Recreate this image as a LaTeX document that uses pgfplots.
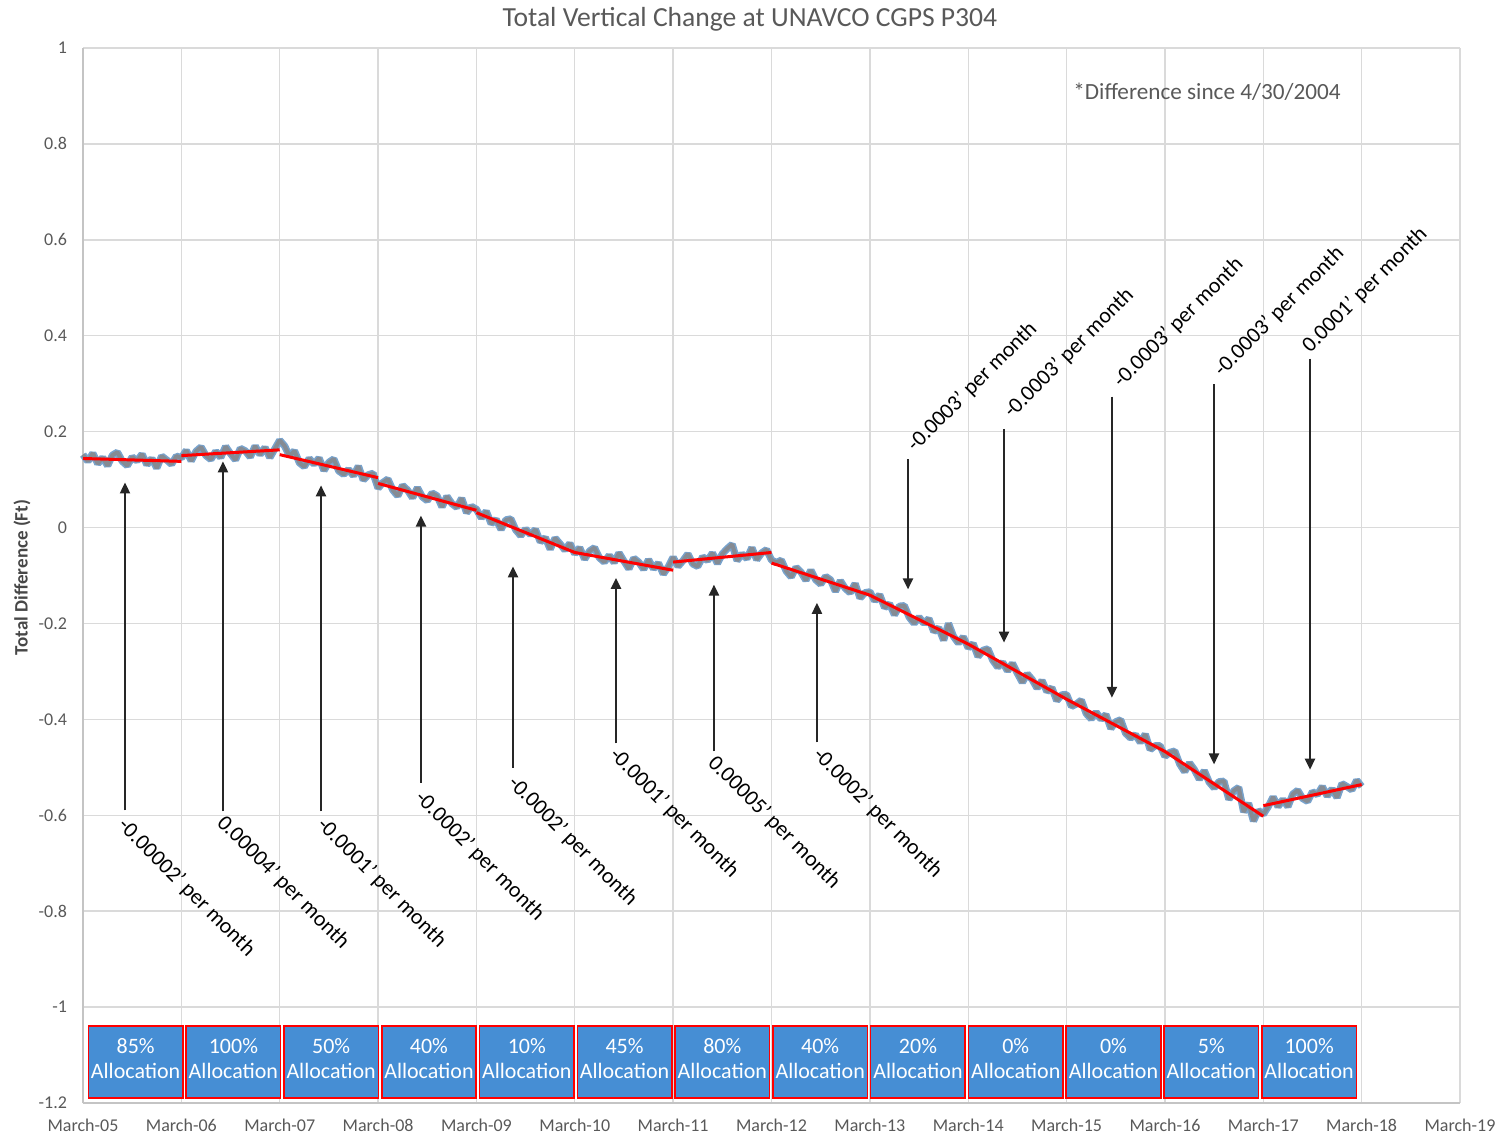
\documentclass[border=0pt]{standalone}
\usepackage{fontspec}
\setmainfont{Carlito}
\usepackage{pgfplots}
\pgfplotsset{compat=1.18}
\usepackage{pgfplotstable}
\usetikzlibrary{arrows.meta}

\definecolor{gridc}{HTML}{DADADA}
\definecolor{axc}{HTML}{C4C4C4}
\definecolor{tickc}{HTML}{595959}
\definecolor{boxblue}{HTML}{468ED4}
\definecolor{bandblue}{HTML}{79A3CC}
\definecolor{bandgrey}{HTML}{858B93}
\definecolor{arrowc}{HTML}{262626}

\pgfplotstableread{
x y
0.00 0.152
0.05 0.138
0.10 0.155
0.15 0.133
0.20 0.146
0.25 0.129
0.30 0.151
0.35 0.157
0.40 0.138
0.45 0.129
0.50 0.147
0.55 0.139
0.60 0.153
0.65 0.131
0.70 0.144
0.75 0.124
0.80 0.149
0.85 0.141
0.90 0.132
0.95 0.149
1.00 0.145
1.05 0.161
1.10 0.139
1.15 0.159
1.20 0.168
1.25 0.150
1.30 0.142
1.35 0.159
1.40 0.146
1.45 0.169
1.50 0.154
1.55 0.141
1.60 0.165
1.65 0.160
1.70 0.147
1.75 0.170
1.80 0.152
1.85 0.167
1.90 0.146
1.95 0.164
2.00 0.182
2.05 0.170
2.10 0.149
2.15 0.160
2.20 0.135
2.25 0.127
2.30 0.144
2.35 0.132
2.40 0.145
2.45 0.119
2.50 0.136
2.55 0.143
2.60 0.118
2.65 0.111
2.70 0.121
2.75 0.108
2.80 0.128
2.85 0.099
2.90 0.110
2.95 0.113
3.00 0.082
3.05 0.094
3.10 0.101
3.15 0.078
3.20 0.066
3.25 0.088
3.30 0.078
3.35 0.062
3.40 0.083
3.45 0.064
3.50 0.056
3.55 0.072
3.60 0.066
3.65 0.043
3.70 0.065
3.75 0.050
3.80 0.042
3.85 0.061
3.90 0.031
3.95 0.044
4.00 0.038
4.05 0.020
4.10 0.034
4.15 0.008
4.20 0.017
4.25 -0.004
4.30 0.016
4.35 0.018
4.40 -0.005
4.45 -0.017
4.50 -0.003
4.55 -0.015
4.60 -0.004
4.65 -0.030
4.70 -0.021
4.75 -0.045
4.80 -0.022
4.85 -0.034
4.90 -0.047
4.95 -0.033
5.00 -0.055
5.05 -0.042
5.10 -0.066
5.15 -0.049
5.20 -0.042
5.25 -0.063
5.30 -0.072
5.35 -0.058
5.40 -0.073
5.45 -0.053
5.50 -0.070
5.55 -0.086
5.60 -0.064
5.65 -0.072
5.70 -0.087
5.75 -0.067
5.80 -0.086
5.85 -0.074
5.90 -0.097
5.95 -0.082
6.00 -0.062
6.05 -0.081
6.10 -0.069
6.15 -0.055
6.20 -0.076
6.25 -0.081
6.30 -0.061
6.35 -0.069
6.40 -0.053
6.45 -0.075
6.50 -0.055
6.55 -0.044
6.60 -0.035
6.65 -0.069
6.70 -0.055
6.75 -0.065
6.80 -0.042
6.85 -0.067
6.90 -0.053
6.95 -0.046
7.00 -0.068
7.05 -0.073
7.10 -0.068
7.15 -0.091
7.20 -0.103
7.25 -0.083
7.30 -0.093
7.35 -0.110
7.40 -0.089
7.45 -0.109
7.50 -0.118
7.55 -0.102
7.60 -0.109
7.65 -0.133
7.70 -0.111
7.75 -0.127
7.80 -0.136
7.85 -0.117
7.90 -0.147
7.95 -0.136
8.00 -0.134
8.05 -0.153
8.10 -0.140
8.15 -0.167
8.20 -0.159
8.25 -0.182
8.30 -0.164
8.35 -0.163
8.40 -0.187
8.45 -0.200
8.50 -0.187
8.55 -0.200
8.60 -0.190
8.65 -0.217
8.70 -0.209
8.75 -0.235
8.80 -0.200
8.85 -0.227
8.90 -0.241
8.95 -0.228
9.00 -0.251
9.05 -0.242
9.10 -0.269
9.15 -0.256
9.20 -0.253
9.25 -0.277
9.30 -0.291
9.35 -0.281
9.40 -0.299
9.45 -0.283
9.50 -0.304
9.55 -0.323
9.60 -0.305
9.65 -0.317
9.70 -0.335
9.75 -0.319
9.80 -0.342
9.85 -0.334
9.90 -0.361
9.95 -0.349
10.00 -0.348
10.05 -0.373
10.10 -0.368
10.15 -0.360
10.20 -0.388
10.25 -0.399
10.30 -0.385
10.35 -0.400
10.40 -0.390
10.45 -0.419
10.50 -0.405
10.55 -0.401
10.60 -0.429
10.65 -0.439
10.70 -0.432
10.75 -0.448
10.80 -0.431
10.85 -0.463
10.90 -0.455
10.95 -0.455
11.00 -0.477
11.05 -0.469
11.10 -0.466
11.15 -0.493
11.20 -0.509
11.25 -0.491
11.30 -0.505
11.35 -0.525
11.40 -0.507
11.45 -0.531
11.50 -0.543
11.55 -0.530
11.60 -0.529
11.65 -0.567
11.70 -0.549
11.75 -0.542
11.80 -0.593
11.85 -0.575
11.90 -0.612
11.95 -0.590
12.00 -0.598
12.05 -0.582
12.10 -0.562
12.15 -0.582
12.20 -0.567
12.25 -0.582
12.30 -0.556
12.35 -0.548
12.40 -0.565
12.45 -0.571
12.50 -0.551
12.55 -0.557
12.60 -0.540
12.65 -0.560
12.70 -0.545
12.75 -0.563
12.80 -0.534
12.85 -0.540
12.90 -0.547
12.95 -0.527
13.00 -0.540
}\gpsdata

\pgfplotstableread{
x y
0 0.144
1 0.138
1 nan
1 0.150
2 0.162
2 nan
2 0.152
3 0.104
3 nan
3 0.092
4 0.036
4 nan
4 0.031
5 -0.052
6 -0.089
6 nan
6 -0.072
7 -0.052
7 nan
7 -0.074
8 -0.141
9 -0.243
10 -0.358
11 -0.467
12 -0.602
12 nan
12 -0.580
13 -0.536
}\trenddata

\tikzset{
  arr/.style={draw=arrowc, line width=1.1pt, -{Triangle[length=5.5pt,width=5pt]}},
  lowlab/.style={rotate=-45, anchor=west, inner sep=0pt, font=\fontsize{11}{12}\selectfont, text=black},
  uplab/.style={rotate=45, anchor=west, inner sep=0pt, font=\fontsize{11}{12}\selectfont, text=black},
  abox/.style={fill=boxblue, draw=red, line width=0.8pt},
  alab/.style={text=white, align=center, font=\fontsize{11}{12.5}\selectfont, inner sep=0pt},
}

\begin{document}
\begin{tikzpicture}
\begin{axis}[
  scale only axis, width=688.5pt, height=527.5pt,
  xmin=0, xmax=14, ymin=-1.2, ymax=1,
  xtick={0,1,2,3,4,5,6,7,8,9,10,11,12,13,14},
  xticklabels={March-05,March-06,March-07,March-08,March-09,March-10,March-11,March-12,March-13,March-14,March-15,March-16,March-17,March-18,March-19},
  ytick={-1.2,-1,-0.8,-0.6,-0.4,-0.2,0,0.2,0.4,0.6,0.8,1},
  yticklabels={-1.2,-1,-0.8,-0.6,-0.4,-0.2,0,0.2,0.4,0.6,0.8,1},
  grid=major, major grid style={draw=gridc, line width=0.7pt},
  axis x line*=bottom, axis y line*=left,
  axis line style={-, draw=axc, line width=0.7pt},
  major tick length=0pt,
  tick label style={font=\fontsize{9}{10}\selectfont, text=tickc},
  xticklabel style={yshift=-4.5pt},
  yticklabel style={xshift=-4.5pt},
  clip=false,
  unbounded coords=jump,
]
\addplot[draw=bandblue, line width=3.6pt, line join=bevel] table[x=x,y=y] {\gpsdata};
\addplot[draw=bandgrey, line width=2.0pt, line join=bevel] table[x=x,y=y] {\gpsdata};
\addplot[draw=red, line width=1.5pt] table[x=x,y=y] {\trenddata};

\coordinate (SW) at (rel axis cs:0,0);
\coordinate (NE) at (rel axis cs:1,1);

% title, y label, note
\node[font=\fontsize{13.8}{15}\selectfont, text=tickc] at (axis cs:6.78,1.059) {Total Vertical Change at UNAVCO CGPS P304};
\node[rotate=90, font=\bfseries\fontsize{9.5}{11}\selectfont, text=tickc!80!black] at (axis cs:-0.62,-0.104) {Total Difference (Ft)};
\node[anchor=west, inner sep=0pt, font=\fontsize{11.6}{13}\selectfont, text=tickc] at (axis cs:10.065,0.909) {*Difference since 4/30/2004};

% arrows
\draw[arr] (axis cs:0.427,-0.590) -- (axis cs:0.427,0.094);
\draw[arr] (axis cs:1.423,-0.592) -- (axis cs:1.423,0.138);
\draw[arr] (axis cs:2.420,-0.592) -- (axis cs:2.420,0.088);
\draw[arr] (axis cs:3.436,-0.532) -- (axis cs:3.436,0.025);
\draw[arr] (axis cs:4.372,-0.501) -- (axis cs:4.372,-0.081);
\draw[arr] (axis cs:5.419,-0.450) -- (axis cs:5.419,-0.105);
\draw[arr] (axis cs:6.415,-0.467) -- (axis cs:6.415,-0.119);
\draw[arr] (axis cs:7.462,-0.448) -- (axis cs:7.462,-0.157);
\draw[arr] (axis cs:8.388,0.142) -- (axis cs:8.388,-0.129);
\draw[arr] (axis cs:9.364,0.206) -- (axis cs:9.364,-0.240);
\draw[arr] (axis cs:10.461,0.273) -- (axis cs:10.461,-0.355);
\draw[arr] (axis cs:11.499,0.299) -- (axis cs:11.499,-0.494);
\draw[arr] (axis cs:12.475,0.352) -- (axis cs:12.475,-0.505);

% rate labels
\node[lowlab] at (axis cs:0.386,-0.615) {-0.00002' per month};
\node[lowlab] at (axis cs:1.393,-0.609) {0.00004' per month};
\node[lowlab] at (axis cs:2.410,-0.613) {-0.0001' per month};
\node[lowlab] at (axis cs:3.406,-0.557) {-0.0002' per month};
\node[lowlab] at (axis cs:4.351,-0.526) {-0.0002' per month};
\node[lowlab] at (axis cs:5.383,-0.467) {-0.0001' per month};
\node[lowlab] at (axis cs:6.385,-0.484) {0.00005' per month};
\node[lowlab] at (axis cs:7.452,-0.467) {-0.0002' per month};
\node[uplab] at (axis cs:8.418,0.165) {-0.0003' per month};
\node[uplab] at (axis cs:9.401,0.235) {-0.0003' per month};
\node[uplab] at (axis cs:10.513,0.299) {-0.0003' per month};
\node[uplab] at (axis cs:11.537,0.322) {-0.0003' per month};
\node[uplab] at (axis cs:12.433,0.372) {0.0001' per month};

% allocation boxes
\draw[abox] (axis cs:0.054,-1.040) rectangle (axis cs:1.015,-1.189);
\draw[abox] (axis cs:1.048,-1.040) rectangle (axis cs:2.009,-1.189);
\draw[abox] (axis cs:2.043,-1.040) rectangle (axis cs:3.003,-1.189);
\draw[abox] (axis cs:3.037,-1.040) rectangle (axis cs:3.998,-1.189);
\draw[abox] (axis cs:4.031,-1.040) rectangle (axis cs:4.992,-1.189);
\draw[abox] (axis cs:5.026,-1.040) rectangle (axis cs:5.986,-1.189);
\draw[abox] (axis cs:6.020,-1.040) rectangle (axis cs:6.981,-1.189);
\draw[abox] (axis cs:7.014,-1.040) rectangle (axis cs:7.975,-1.189);
\draw[abox] (axis cs:8.008,-1.040) rectangle (axis cs:8.969,-1.189);
\draw[abox] (axis cs:9.003,-1.040) rectangle (axis cs:9.963,-1.189);
\draw[abox] (axis cs:9.997,-1.040) rectangle (axis cs:10.958,-1.189);
\draw[abox] (axis cs:10.991,-1.040) rectangle (axis cs:11.952,-1.189);
\draw[abox] (axis cs:11.986,-1.040) rectangle (axis cs:12.946,-1.189);

\node[alab] at (axis cs:0.535,-1.108) {85\%\\Allocation};
\node[alab] at (axis cs:1.529,-1.108) {100\%\\Allocation};
\node[alab] at (axis cs:2.523,-1.108) {50\%\\Allocation};
\node[alab] at (axis cs:3.517,-1.108) {40\%\\Allocation};
\node[alab] at (axis cs:4.512,-1.108) {10\%\\Allocation};
\node[alab] at (axis cs:5.506,-1.108) {45\%\\Allocation};
\node[alab] at (axis cs:6.500,-1.108) {80\%\\Allocation};
\node[alab] at (axis cs:7.495,-1.108) {40\%\\Allocation};
\node[alab] at (axis cs:8.489,-1.108) {20\%\\Allocation};
\node[alab] at (axis cs:9.483,-1.108) {0\%\\Allocation};
\node[alab] at (axis cs:10.477,-1.108) {0\%\\Allocation};
\node[alab] at (axis cs:11.472,-1.108) {5\%\\Allocation};
\node[alab] at (axis cs:12.466,-1.108) {100\%\\Allocation};
\end{axis}
\pgfresetboundingbox
\path[use as bounding box] ([shift={(-41.5pt,-16.5pt)}]SW) rectangle ([shift={(19.5pt,24pt)}]NE);
\end{tikzpicture}
\end{document}
